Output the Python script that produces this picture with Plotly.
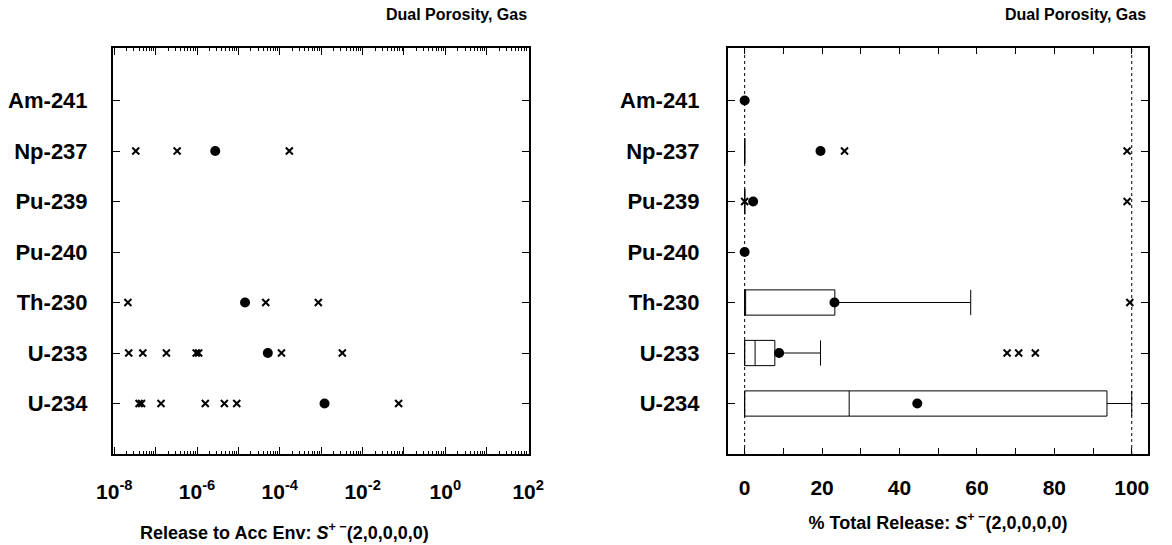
import plotly.graph_objects as go

# ---------------- data ----------------
isotopes = ["Am-241", "Np-237", "Pu-239", "Pu-240", "Th-230", "U-233", "U-234"]

# Left panel: release to accessible environment (log scale), individual realizations (x) and mean (dot)
left_np237 = [10**-7.48, 10**-6.48, 10**-3.77]
left_th230 = [10**-7.67, 10**-4.34, 10**-3.07]
left_u233 = [10**-7.65, 10**-7.31, 10**-6.74, 10**-6.02, 10**-5.96, 10**-3.96, 10**-2.49]
left_u234 = [10**-7.40, 10**-7.34, 10**-6.87, 10**-5.80, 10**-5.34, 10**-5.04, 10**-1.13]
left_means = [None, 10**-5.56, None, None, 10**-4.84, 10**-4.29, 10**-2.92]

# Right panel: % total release, box statistics
box_isotopes = ["Np-237", "Pu-239", "Th-230", "U-233", "U-234"]
box_q1 = [0, 0, 0, 0, 0]
box_median = [0, 0, 0, 2.7, 27.0]
box_q3 = [0, 0, 23.3, 7.8, 93.6]
box_low = [0, 0, 0, 0, 0]
box_high = [0, 0, 58.4, 19.6, 100]
right_means = [0, 19.6, 2.2, 0, 23.2, 8.9, 44.6]
right_np237 = [25.8, 98.8]
right_pu239 = [0, 98.8]
right_th230 = [99.5]
right_u233 = [67.8, 70.8, 75.1]
ref_lines = [0, 100]

left_ticks = [10.0**e for e in range(-8, 3)]
left_ticktext = ["10<sup>%d</sup>" % e if e % 2 == 0 else "" for e in range(-8, 3)]
right_ticks = list(range(0, 101, 10))
right_ticktext = [str(v) if v % 20 == 0 else "" for v in right_ticks]

# ---------------- figure ----------------
FONT = "Liberation Sans, Arial, Helvetica, sans-serif"
pos = {name: i for i, name in enumerate(isotopes)}

fig = go.Figure()

cross = dict(symbol="x-thin", size=7, color="black", line=dict(width=2, color="black"))
dot = dict(symbol="circle", size=10, color="black")

for name, vals in [("Np-237", left_np237), ("Th-230", left_th230),
                   ("U-233", left_u233), ("U-234", left_u234)]:
    fig.add_trace(go.Scatter(x=vals, y=[pos[name]] * len(vals), mode="markers",
                             marker=cross, xaxis="x", yaxis="y", showlegend=False))
mx = [m for m in left_means if m is not None]
my = [i for i, m in enumerate(left_means) if m is not None]
fig.add_trace(go.Scatter(x=mx, y=my, mode="markers", marker=dot,
                         xaxis="x", yaxis="y", showlegend=False))

# right panel boxes
fig.add_trace(go.Box(
    y=[pos[n] for n in box_isotopes], q1=box_q1, median=box_median, q3=box_q3,
    lowerfence=box_low, upperfence=box_high, orientation="h",
    width=0.5, whiskerwidth=1, boxpoints=False,
    line=dict(color="black", width=1), fillcolor="rgba(0,0,0,0)",
    xaxis="x2", yaxis="y2", showlegend=False, hoverinfo="skip"))

for name, vals in [("Np-237", right_np237), ("Pu-239", right_pu239),
                   ("Th-230", right_th230), ("U-233", right_u233)]:
    fig.add_trace(go.Scatter(x=vals, y=[pos[name]] * len(vals), mode="markers",
                             marker=cross, xaxis="x2", yaxis="y2", showlegend=False))
fig.add_trace(go.Scatter(x=right_means, y=list(range(len(isotopes))), mode="markers",
                         marker=dot, xaxis="x2", yaxis="y2", showlegend=False))

for v in ref_lines:
    fig.add_shape(type="line", xref="x2", yref="y2 domain", x0=v, x1=v, y0=0, y1=1,
                  line=dict(color="black", width=1, dash="dot"), layer="below")

W, H = 1172, 545
ydom = [1 - 454 / H, 1 - 47.5 / H]
ytickfont = dict(family=FONT, size=22, color="black", weight="bold")
xtickfont = dict(family=FONT, size=21, color="black", weight="bold")
titlefont = dict(family=FONT, size=18, color="black", weight="bold")
headfont = dict(family=FONT, size=16, color="black", weight="bold")

yaxis_common = dict(
    range=[7.0, -1.05], tickmode="array", tickvals=list(range(len(isotopes))),
    ticktext=isotopes, ticks="inside", ticklen=7, tickwidth=1, tickcolor="black",
    showline=True, linecolor="black", linewidth=2, mirror="ticks",
    showgrid=False, zeroline=False, tickfont=ytickfont, automargin=False,
    domain=ydom)

minor_vals = [k * 10.0**e for e in range(-8, 2) for k in range(2, 10)]

fig.update_layout(
    width=W, height=H, margin=dict(l=0, r=0, t=0, b=0),
    paper_bgcolor="white", plot_bgcolor="white",
    font=dict(family=FONT, color="black"),
    xaxis=dict(
        type="log", domain=[113 / W, 529 / W], range=[-8.03, 2.02],
        tickmode="array", tickvals=left_ticks, ticktext=left_ticktext,
        ticks="inside", ticklen=7, tickwidth=1, tickcolor="black",
        minor=dict(tickmode="array", tickvals=minor_vals, ticks="inside",
                   ticklen=3, tickwidth=1, tickcolor="black"),
        showline=True, linecolor="black", linewidth=2, mirror="ticks",
        showgrid=False, zeroline=False, tickfont=xtickfont, ticklabelstandoff=18,
        automargin=False, anchor="y"),
    yaxis=dict(anchor="x", ticklabelstandoff=19, **yaxis_common),
    xaxis2=dict(
        domain=[728 / W, 1148 / W], range=[-4.3, 104.2],
        tickmode="array", tickvals=right_ticks, ticktext=right_ticktext,
        ticks="inside", ticklen=6, tickwidth=1, tickcolor="black",
        showline=True, linecolor="black", linewidth=2, mirror="ticks",
        showgrid=False, zeroline=False, tickfont=xtickfont, ticklabelstandoff=14,
        automargin=False,
        title=dict(text="% Total Release: <i>S</i><sup>+ −</sup>(2,0,0,0,0)",
                   font=titlefont, standoff=18),
        anchor="y2"),
    yaxis2=dict(anchor="x2", ticklabelstandoff=22, **yaxis_common),
    annotations=[
        dict(text="Release to Acc Env: <i>S</i><sup>+ −</sup>(2,0,0,0,0)",
             xref="paper", yref="paper", x=284 / W, y=1 - 531 / H,
             xanchor="center", yanchor="middle", showarrow=False, font=titlefont),
        dict(text="Dual Porosity, Gas", xref="paper", yref="paper",
             x=529 / W, y=1 - 14 / H, xanchor="right", yanchor="middle", showarrow=False,
             font=headfont),
        dict(text="Dual Porosity, Gas", xref="paper", yref="paper",
             x=1148 / W, y=1 - 14 / H, xanchor="right", yanchor="middle", showarrow=False,
             font=headfont),
    ],
)

fig.write_html("out.html")
